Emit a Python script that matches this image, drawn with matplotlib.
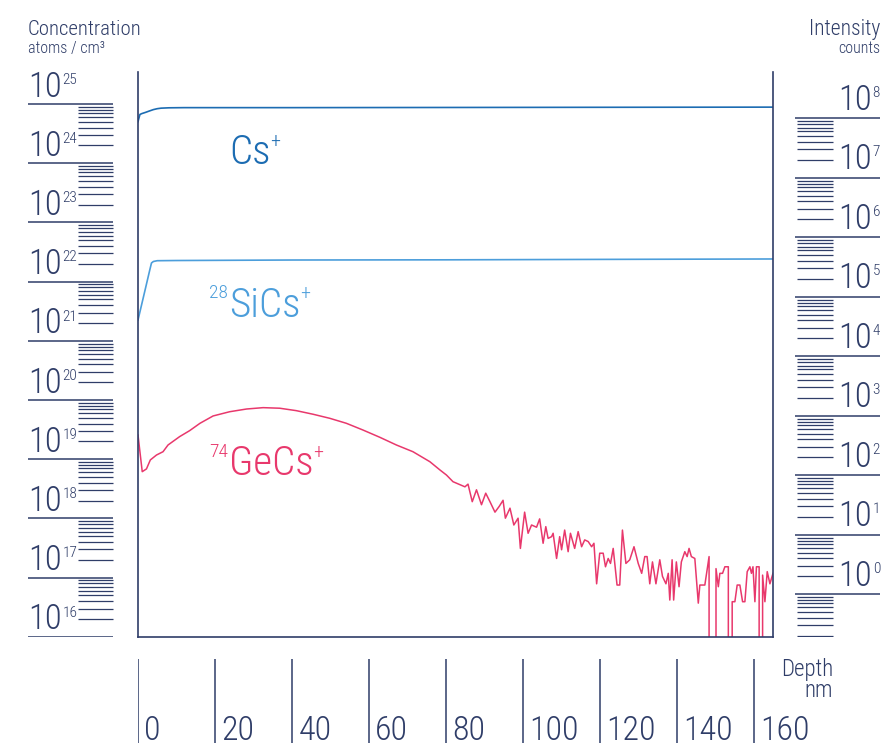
import matplotlib
matplotlib.use('Agg')
import matplotlib.pyplot as plt

W, H = 883, 747
plt.rcParams['font.family'] = ['Roboto Condensed', 'Liberation Sans', 'DejaVu Sans']
plt.rcParams['font.weight'] = 'light'

navy = '#2f3d68'
c_cs = '#1c6cb2'
c_si = '#4c9edb'
c_ge = '#e8386c'

# ---- data (depth in nm, intensity in counts) ----
cs_depth = [0, 0.5, 1, 2, 3, 4, 5, 6, 8, 12, 20, 40, 80, 120, 164.9]
cs_counts = [8.8e7, 1.16e8, 1.2e8, 1.26e8, 1.33e8, 1.4e8, 1.45e8, 1.48e8,
             1.5e8, 1.51e8, 1.51e8, 1.51e8, 1.52e8, 1.53e8, 1.54e8]

si_depth = [0, 1, 2, 3, 3.5, 4, 5, 10, 40, 80, 120, 164.9]
si_counts = [4.07e4, 7.65e4, 1.44e5, 2.72e5, 3.7e5, 3.92e5, 4.04e5, 4.07e5,
             4.15e5, 4.18e5, 4.25e5, 4.32e5]

ge_depth = [0, 1.1, 2.2, 3.2, 4.8, 6.5, 7.8, 10.8, 13.4, 16.1, 19.5, 23.8, 28.2,
            32.5, 36.8, 41.1, 45.5, 49.8, 54.1, 58.4, 62.8, 67.1, 71.4, 75.8,
            78.4, 80.1, 81.8, 84.9, 85.7, 86.8, 87.9, 89.2, 90.3, 91.4, 92.7,
            93.8, 94.8, 95.4, 96.6, 97.6, 98.7, 99.3, 100.4, 101.3, 102.2,
            103.5, 104.3, 105.2, 105.9, 106.5, 107.4, 107.8, 108.7, 109.5,
            110.0, 110.8, 111.7, 112.3, 113.4, 114.3, 115.2, 116.0, 116.9,
            117.8, 118.4, 119.1, 119.9, 120.8, 121.4, 122.1, 122.7, 123.4,
            124.4, 125.1, 125.8, 126.7, 127.7, 128.8, 129.9, 130.8, 131.6,
            132.2, 132.9, 133.6, 134.5, 135.5, 136.2, 137.1, 137.7, 138.1,
            138.7, 139.1, 139.8, 140.5, 141.1, 142.0, 142.6, 143.1, 143.7,
            144.6, 145.5, 145.9, 147.2, 148.3, 148.9, 149.5, 150.1, 150.7,
            151.1, 151.8, 152.4, 153.3, 153.7, 154.3, 155.0, 155.6, 156.3,
            157.0, 157.6, 158.2, 158.9, 159.3, 159.7, 160.2, 160.6, 161.3,
            161.7, 162.2, 162.8, 163.4, 164.1, 164.9]
ge_counts = [475, 115, 128, 181, 219, 249, 323, 446, 562, 748, 993, 1170, 1300,
             1370, 1340, 1220, 1060, 907, 748, 577, 435, 323, 249, 169,
             123, 101, 78, 64, 71, 36, 57, 32, 50, 36, 24,
             30, 38, 19, 28, 14.6, 19, 5.9, 24, 10.6, 14.6,
             13.4, 18.5, 7.2, 13.7, 8.7, 9.3, 10.6, 4.0, 9.3,
             5.6, 12.0, 5.2, 10.6, 5.9, 11.3, 6.3, 8.2, 7.7,
             6.3, 7.2, 1.5, 4.9, 4.9, 2.9, 4.0, 3.3, 5.9,
             1.43, 1.43, 12.0, 3.3, 3.8, 6.3, 3.3, 2.25, 4.3,
             4.3, 1.5, 3.5, 1.5, 3.8, 2.0, 1.5, 2.25, 0.8,
             3.8, 0.8, 3.5, 1.34, 3.5, 5.2, 4.3, 5.9, 4.3,
             4.0, 0.71, 1.43, 1.43, 4.3, 0, 0, 2.7, 1.34,
             2.25, 2.25, 2.9, 2.9, 0, 0.75, 0.75, 1.43, 1.43,
             0.75, 0.75, 2.4, 2.9, 2.25, 2.9, 0.75, 2.9, 2.9,
             0, 2.1, 0.75, 2.4, 1.5, 2.25]

conc_decades = list(range(16, 26))
int_decades = list(range(0, 9))
depth_ticks = [0, 20, 40, 60, 80, 100, 120, 140, 160]


def box(x0, y0, x1, y1):
    # pixel box (top-left origin) -> figure fraction rect
    return [x0 / W, 1 - y1 / H, (x1 - x0) / W, (y1 - y0) / H]


fig = plt.figure(figsize=(W / 100, H / 100), dpi=100)

# main plot
ax = fig.add_axes(box(138, 72, 773, 637))
ax.set_yscale('log')
ax.set_xlim(0, 164.9)
ax.set_ylim(10 ** -0.718, 10 ** 8.778)
ax.tick_params(which='both', length=0, labelleft=False, labelbottom=False)
ax.spines['top'].set_visible(False)
for s in ['left', 'right', 'bottom']:
    ax.spines[s].set_color(navy)
    ax.spines[s].set_linewidth(1.2)

ax.plot(cs_depth, cs_counts, color=c_cs, lw=1.2)
ax.plot(si_depth, si_counts, color=c_si, lw=1.2)
ax.plot(ge_depth, ge_counts, color=c_ge, lw=1.1)

# species labels
t = ax.text(23.6, 1.7e7, 'Cs', color=c_cs, fontsize=29.5, ha='left', va='baseline')
ax.annotate('+', (1, 1.7e7), xycoords=(t, 'data'), xytext=(0, 12.5),
            textcoords='offset points', color=c_cs, fontsize=14.5, va='baseline')
t = ax.text(23.6, 4.6e4, 'SiCs', color=c_si, fontsize=29.5, ha='left', va='baseline')
ax.annotate('+', (1, 4.6e4), xycoords=(t, 'data'), xytext=(0, 12.5),
            textcoords='offset points', color=c_si, fontsize=14.5, va='baseline')
ax.annotate('28', (0, 4.6e4), xycoords=(t, 'data'), xytext=(-0.5, 13.5),
            textcoords='offset points', color=c_si, fontsize=14, ha='right', va='baseline')
t = ax.text(23.6, 101, 'GeCs', color=c_ge, fontsize=29.5, ha='left', va='baseline')
ax.annotate('+', (1, 101), xycoords=(t, 'data'), xytext=(0, 12.5),
            textcoords='offset points', color=c_ge, fontsize=14.5, va='baseline')
ax.annotate('74', (0, 101), xycoords=(t, 'data'), xytext=(-0.5, 13),
            textcoords='offset points', color=c_ge, fontsize=14, ha='right', va='baseline')

# left scale: concentration
axl = fig.add_axes(box(0, 72, 138, 637))
axl.set_xlim(0, 138)
axl.set_yscale('log')
axl.set_ylim(10 ** 15.997, 10 ** 25.54)
axl.axis('off')
for n in conc_decades:
    axl.hlines(10.0 ** n, 28, 113, color=navy, lw=1.1)
    if n < 25:
        axl.hlines([k * 10.0 ** n for k in range(2, 10)], 78, 113, color=navy, lw=0.9)
    t = axl.annotate('10', (28, 10.0 ** n), xytext=(0, 5.3), textcoords='offset points',
                     ha='left', va='baseline', fontsize=25, color=navy)
    axl.annotate(str(n), (1, 10.0 ** n), xycoords=(t, 'data'), xytext=(0.5, 14.5),
                 textcoords='offset points', ha='left', va='baseline', fontsize=11, color=navy)

# right scale: intensity
axr = fig.add_axes(box(773, 72, 883, 637))
axr.set_xlim(773, 883)
axr.set_yscale('log')
axr.set_ylim(10 ** -0.718, 10 ** 8.778)
axr.axis('off')
for n in int_decades:
    axr.hlines(10.0 ** n, 795, 880, color=navy, lw=1.1)
    axr.hlines([k * 10.0 ** (n - 1) for k in range(2, 10)], 797, 833, color=navy, lw=0.9)
    e = axr.annotate(str(n), (880, 10.0 ** n), xytext=(0, 15.5), textcoords='offset points',
                     ha='right', va='baseline', fontsize=11, color=navy)
    axr.annotate('10', (0, 10.0 ** n), xycoords=(e, 'data'), xytext=(-0.3, 6),
                 textcoords='offset points', ha='right', va='baseline', fontsize=25, color=navy)

# bottom scale: depth
axb = fig.add_axes(box(138, 645, 773, 747))
axb.set_xlim(0, 164.9)
axb.set_ylim(747, 645)
axb.axis('off')
axb.vlines(depth_ticks, 659, 743, color=navy, lw=1.1)
for d in depth_ticks:
    axb.annotate(str(d), (d, 746.5), xytext=(4.5, 0), textcoords='offset points',
                 ha='left', va='bottom', fontsize=24.5, color=navy)

# axis titles
fig.text(28 / W, 1 - 35 / H, 'Concentration', fontsize=15, color=navy, ha='left', va='baseline')
fig.text(28 / W, 1 - 52.5 / H, 'atoms / cm³', fontsize=11.5, color=navy, ha='left', va='baseline')
fig.text(880 / W, 1 - 35.5 / H, 'Intensity', fontsize=15.5, color=navy, ha='right', va='baseline')
fig.text(880 / W, 1 - 53 / H, 'counts', fontsize=11.5, color=navy, ha='right', va='baseline')
fig.text(833 / W, 1 - 676 / H, 'Depth', fontsize=16.5, color=navy, ha='right', va='baseline')
fig.text(833 / W, 1 - 697 / H, 'nm', fontsize=16.5, color=navy, ha='right', va='baseline')

fig.savefig('out.png', dpi=100)
